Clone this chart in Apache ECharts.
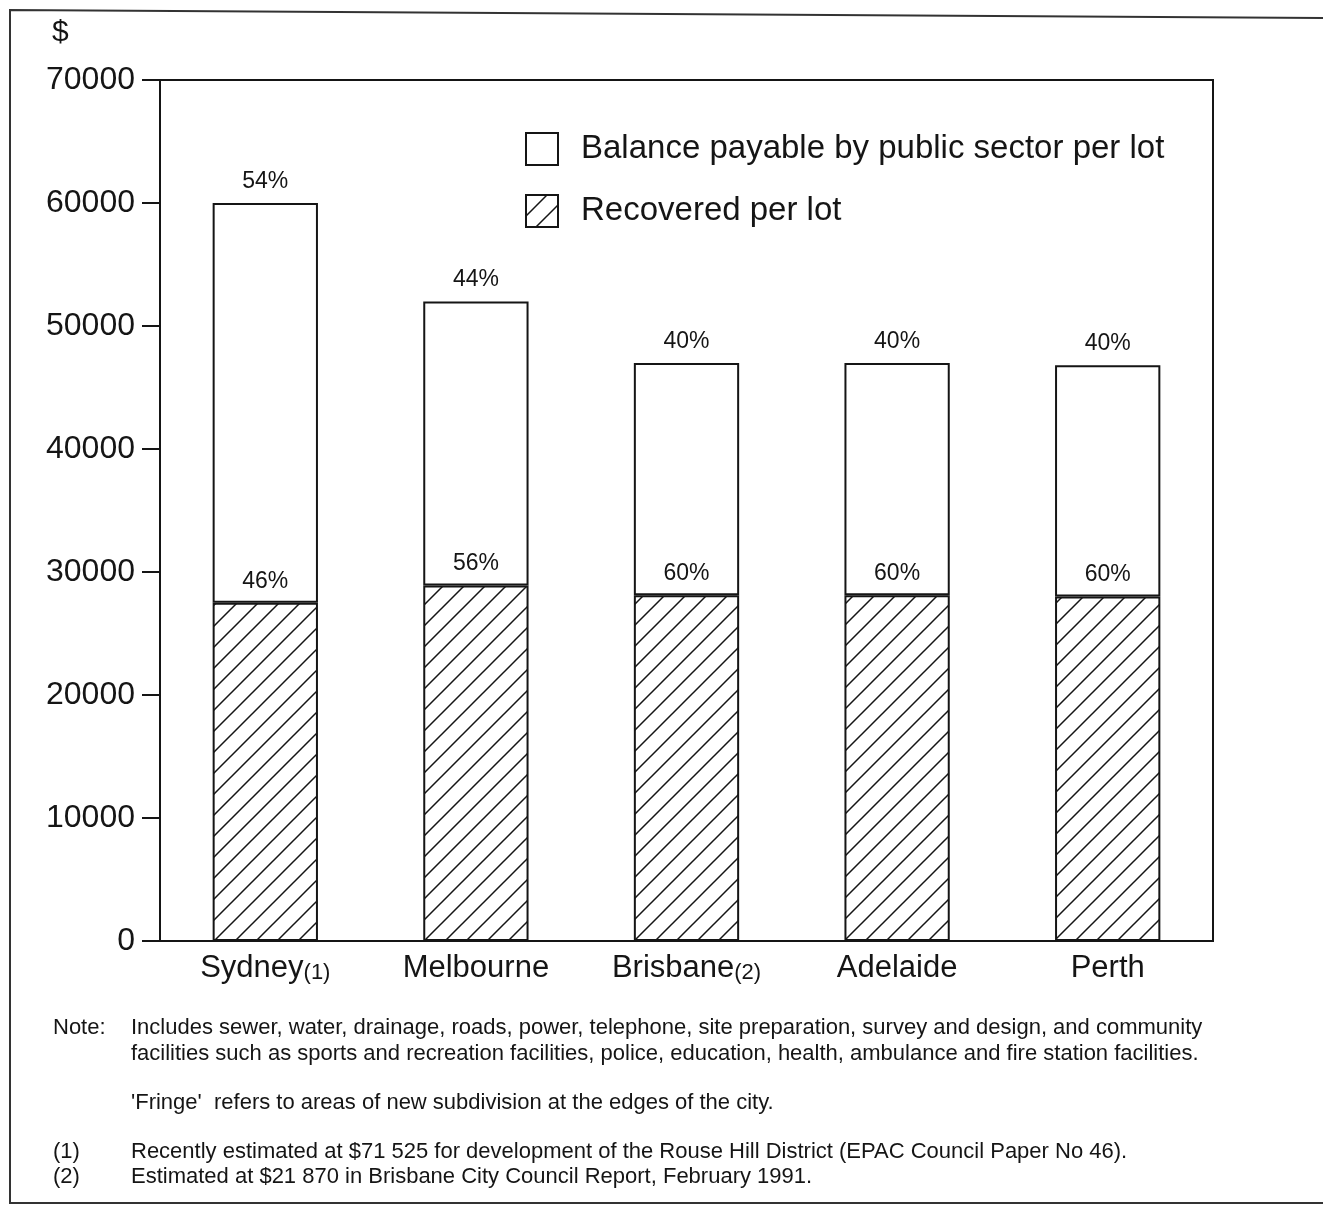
<!DOCTYPE html>
<html>
<head>
<meta charset="utf-8">
<script src="https://cdn.jsdelivr.net/npm/echarts@6/dist/echarts.min.js"></script>
<style>
  html, body { margin: 0; padding: 0; background: #fff; }
  #chart { width: 1323px; height: 1207px; }
</style>
</head>
<body>
<div id="chart"></div>
<script>
// data
const cities = ['Sydney', 'Melbourne', 'Brisbane', 'Adelaide', 'Perth']
const cityNotes = ['(1)', '', '(2)', '', '']
const recovered = [27500, 28900, 28100, 28100, 28000]
const balance = [32500, 23100, 18900, 18900, 18800]
const recoveredPct = ['46%', '56%', '60%', '60%', '60%']
const balancePct = ['54%', '44%', '40%', '40%', '40%']
const seriesNames = ['Balance payable by public sector per lot', 'Recovered per lot']
const noteLines = [
  'Includes sewer, water, drainage, roads, power, telephone, site preparation, survey and design, and community',
  'facilities such as sports and recreation facilities, police, education, health, ambulance and fire station facilities.'
]
const fringeLine = '\'Fringe\'  refers to areas of new subdivision at the edges of the city.'
const footnotes = [
  ['(1)', 'Recently estimated at $71 525 for development of the Rouse Hill District (EPAC Council Paper No 46).'],
  ['(2)', 'Estimated at $21 870 in Brisbane City Council Report, February 1991.']
]

const FONT = '"Liberation Sans", Arial, sans-serif'
const INK = '#151515'

// "/" hatch used for the recovered part
function hatch () {
  const s = 21
  const c = document.createElement('canvas')
  c.width = s
  c.height = s
  const g = c.getContext('2d')
  g.fillStyle = '#fff'
  g.fillRect(0, 0, s, s)
  g.strokeStyle = INK
  g.lineWidth = 1.5
  g.beginPath()
  g.moveTo(-2, s + 2); g.lineTo(s + 2, -2)
  g.moveTo(-2, 2); g.lineTo(2, -2)
  g.moveTo(s - 2, s + 2); g.lineTo(s + 2, s - 2)
  g.stroke()
  return c
}

const chart = echarts.init(document.getElementById('chart'))

const noteText = (x, y, text) => ({
  type: 'text',
  x: x,
  y: y,
  style: { text: text, font: '22px ' + FONT, fill: INK, verticalAlign: 'middle' }
})

const graphics = [
  {
    type: 'polyline',
    shape: { points: [[1330, 1203], [10, 1203], [10, 10], [1330, 18]] },
    style: { stroke: '#333', lineWidth: 2, fill: null }
  },
  {
    type: 'text',
    x: 52,
    y: 33,
    style: { text: '$', font: '30px ' + FONT, fill: INK, verticalAlign: 'middle' }
  },
  noteText(53, 1028, 'Note:'),
  noteText(131, 1028, noteLines[0]),
  noteText(131, 1054, noteLines[1]),
  noteText(131, 1103, fringeLine)
]
footnotes.forEach((f, i) => {
  graphics.push(noteText(53, 1152 + i * 25, f[0]))
  graphics.push(noteText(131, 1152 + i * 25, f[1]))
})

const option = {
  animation: false,
  backgroundColor: '#fff',
  textStyle: { fontFamily: FONT, color: INK },
  grid: {
    left: 160,
    right: 110,
    top: 80,
    bottom: 266,
    show: true,
    borderColor: INK,
    borderWidth: 2,
    backgroundColor: 'transparent'
  },
  legend: {
    orient: 'vertical',
    left: 520,
    top: 127,
    itemWidth: 32,
    itemHeight: 32,
    itemGap: 28,
    icon: 'rect',
    selectedMode: false,
    textStyle: { fontSize: 33, color: INK, fontFamily: FONT, padding: [0, 0, 0, 18] },
    data: seriesNames
  },
  xAxis: {
    type: 'category',
    data: cities,
    axisLine: { lineStyle: { color: INK, width: 2 } },
    axisTick: { show: false },
    axisLabel: {
      margin: 12,
      formatter: (v, i) => cityNotes[i] ? '{a|' + v + '}{b|' + cityNotes[i] + '}' : '{a|' + v + '}',
      rich: {
        a: { fontSize: 31, color: INK, fontFamily: FONT },
        b: { fontSize: 22, color: INK, fontFamily: FONT, padding: [8, 0, 0, 0] }
      }
    }
  },
  yAxis: {
    type: 'value',
    min: 0,
    max: 70000,
    interval: 10000,
    axisLine: { show: true, lineStyle: { color: INK, width: 2 } },
    axisTick: { show: true, length: 18, lineStyle: { color: INK, width: 2 } },
    splitLine: { show: false },
    axisLabel: { fontSize: 32, color: INK, fontFamily: FONT, margin: 25, formatter: v => String(v) }
  },
  series: [
    {
      name: seriesNames[1],
      type: 'bar',
      stack: 'lot',
      barWidth: '50%',
      data: recovered,
      itemStyle: { color: { image: hatch(), repeat: 'repeat' }, borderColor: INK, borderWidth: 2 },
      label: {
        show: true,
        position: 'top',
        distance: 10,
        fontSize: 23,
        color: INK,
        fontFamily: FONT,
        formatter: p => recoveredPct[p.dataIndex]
      }
    },
    {
      name: seriesNames[0],
      type: 'bar',
      stack: 'lot',
      barWidth: '50%',
      data: balance,
      itemStyle: { color: '#fff', borderColor: INK, borderWidth: 2 },
      label: {
        show: true,
        position: 'top',
        distance: 10,
        fontSize: 23,
        color: INK,
        fontFamily: FONT,
        formatter: p => balancePct[p.dataIndex]
      }
    }
  ],
  graphic: graphics
}

chart.setOption(option)
</script>
</body>
</html>
